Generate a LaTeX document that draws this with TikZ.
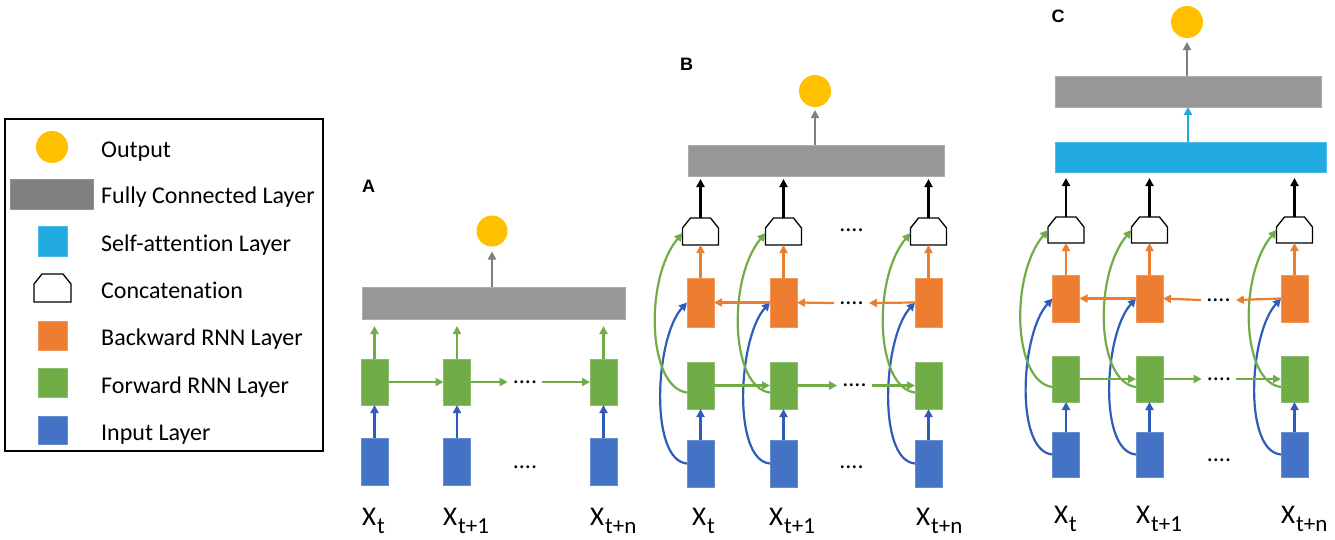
\documentclass[tikz,border=0pt]{standalone}
\usepackage{fontspec}
\setmainfont{Carlito}[Ligatures=CommonOff]
\newfontfamily\arialfont{Liberation Sans}
\usetikzlibrary{arrows.meta}
\definecolor{cYel}{HTML}{FFC000}
\definecolor{cGray}{HTML}{979797}
\definecolor{cGrayLeg}{HTML}{808080}
\definecolor{cSA}{RGB}{33,170,225}
\definecolor{cOrange}{HTML}{ED7D31}
\definecolor{cGreen}{HTML}{70AD47}
\definecolor{cBlue}{HTML}{4472C4}
\definecolor{cBlueArr}{RGB}{47,92,184}
\definecolor{cGrayArr}{HTML}{7F7F7F}
\newcommand\mkXlabel[1]{\fontsize{27}{27}\selectfont X\kern1pt\raisebox{-8pt}{\fontsize{23}{23}\selectfont #1}}
\begin{document}
\begin{tikzpicture}[x=1pt,y=-1pt,
  box/.style={rectangle, inner sep=0pt, outer sep=0pt, minimum width=27pt, minimum height=47pt, line width=0.8pt},
  inbox/.style={box, fill=cBlue, draw=cBlue!80!white},
  fwbox/.style={box, fill=cGreen, draw=cGreen!80!white},
  bwbox/.style={box, fill=cOrange, draw=cOrange!80!white},
  sabox/.style={box, fill=cSA, draw=cSA!80!white},
  fcbar/.style={rectangle, inner sep=0pt, outer sep=0pt, fill=cGray, draw=cGray!80!white, line width=0.8pt},
  outcircle/.style={circle, fill=cYel, inner sep=0pt, outer sep=0pt, minimum size=32pt},
  cat/.style={rectangle, inner sep=0pt, outer sep=0pt, minimum width=36pt, minimum height=27pt},
  catline/.style={draw=black, fill=white, line width=1.3pt, line join=miter},
  arr/.style={line width=2.2pt, -{Triangle[length=8pt,width=8pt]}},
  garr/.style={arr, draw=cGreen},
  barr/.style={arr, draw=cBlueArr},
  oarr/.style={arr, draw=cOrange},
  karr/.style={arr, draw=black, line width=2.6pt},
  grarr/.style={arr, draw=cGrayArr},
  larr/.style={arr, draw=cSA},
  dots/.style={inner ysep=0pt, inner xsep=5pt, font=\fontsize{24}{24}\selectfont},
  legtext/.style={anchor=base west, inner sep=0pt, font=\fontsize{24}{28}\selectfont},
  xlab/.style={anchor=base west, inner sep=0pt},
  plabel/.style={anchor=base west, inner sep=0pt, font=\arialfont\bfseries\fontsize{18}{18}\selectfont}
]
\useasboundingbox (0,0) rectangle (1335,539);

% ---------------- Legend ----------------
\node[draw=black, line width=1.2pt, rectangle, inner sep=0pt, minimum width=318pt, minimum height=332pt] (legbox) at (164,285) {};
\node[outcircle] (lout) at (52,147) {};
\node[legtext] (tout) at (101,157) {Output};
\node[fcbar, fill=cGrayLeg, draw=cGrayLeg!85!white, minimum width=83pt, minimum height=30pt] (lfc) at (51.5,194) {};
\node[legtext] (tfc) at (101,203) {Fully Connected Layer};
\node[sabox, minimum width=29pt, minimum height=30pt] (lsa) at (52.5,241) {};
\node[legtext] (tsa) at (101,251) {Self-attention Layer};
\node[cat, minimum width=37pt, minimum height=28pt] (lcat) at (52.5,288) {};
\draw[catline] (lcat.south west) -- ([yshift=-10pt]lcat.north west) -- ([xshift=8pt]lcat.north west)
   -- ([xshift=-8pt]lcat.north east) -- ([yshift=-10pt]lcat.north east) -- (lcat.south east) -- cycle;
\node[legtext] (tcat) at (101,298) {Concatenation};
\node[bwbox, minimum width=29pt, minimum height=29pt] (lbw) at (52.5,335.5) {};
\node[legtext] (tbw) at (101,345) {Backward RNN Layer};
\node[fwbox, minimum width=29pt, minimum height=29pt] (lfw) at (52.5,382.5) {};
\node[legtext] (tfw) at (101,393) {Forward RNN Layer};
\node[inbox, minimum width=29pt, minimum height=28pt] (lin) at (52.5,430) {};
\node[legtext] (tin) at (101,440) {Input Layer};

% ---------------- Panel A ----------------
\node[plabel] (labA) at (362,192) {A};
\node[outcircle, minimum size=31pt] (aout) at (492,231) {};
\node[fcbar, minimum width=263pt, minimum height=32pt] (afc) at (493.5,303) {};
\foreach \i/\x in {1/374.5, 2/457, 3/603.5} {
  \node[inbox] (ai\i) at (\x,461.5) {};
  \node[fwbox, minimum height=46pt] (af\i) at (\x,382) {};
}
\node[dots] (afd) at (525,382) {....};
\node[dots] (aid) at (525,467) {....};
\foreach \i in {1,2,3} {
  \draw[barr] (ai\i.north) -- (af\i.south);
  \draw[garr, shorten >=7pt] (af\i.north) -- (af\i.north |- afc.south);
}
\draw[garr] (af1.east) -- (af2.west);
\draw[garr] (af2.east) -- (afd.west);
\draw[garr] (afd.east) -- (af3.west);
\draw[grarr, shorten >=5pt] (aout |- afc.north) -- (aout.south);
\node[xlab] (ax1) at (362,525) {\mkXlabel{t}};
\node[xlab] (ax2) at (443,525) {\mkXlabel{t+1}};
\node[xlab] (ax3) at (590,525) {\mkXlabel{t+n}};

% ---------------- Panel B ----------------
\node[plabel] (labB) at (680,70) {B};
\node[outcircle] (bout) at (815,91) {};
\node[fcbar, minimum width=256pt, minimum height=31pt] (bfc) at (816,160.5) {};
\foreach \i/\x in {1/700.5, 2/783.5, 3/928.5} {
  \node[inbox] (bi\i) at (\x,463.5) {};
  \node[fwbox] (bf\i) at (\x,385.5) {};
  \node[bwbox, minimum height=49pt] (bo\i) at (\x,302.5) {};
  \node[cat] (bc\i) at (\x,231.5) {};
}
\node[dots] (bod) at (851.5,303) {....};
\node[dots] (bfd) at (854.5,385.5) {....};
\node[dots] (bcd) at (851.5,230) {....};
\node[dots] (bid) at (851.5,467) {....};
\foreach \i in {1,2,3} {
  \draw[catline] (bc\i.south west) -- ([yshift=-10pt]bc\i.north west) -- ([xshift=8pt]bc\i.north west)
     -- ([xshift=-8pt]bc\i.north east) -- ([yshift=-10pt]bc\i.north east) -- (bc\i.south east) -- cycle;
  \draw[barr] (bi\i.north) -- (bf\i.south);
  \draw[oarr] (bo\i.north) -- (bc\i.south);
  \draw[karr, shorten >=3pt] (bc\i.north) -- (bc\i.north |- bfc.south);
  \draw[barr] (bi\i.west) .. controls +(-38,-3) and +(-32,35) .. (bo\i.west);
  \draw[garr] ([yshift=-7pt]bf\i.west) .. controls +(-40,-5) and +(-38,45) .. ([yshift=-1.5pt]bc\i.west);
}
\draw[garr] (bf1.east) -- (bf2.west);
\draw[garr] (bf2.east) -- (bfd.west);
\draw[garr] (bfd.east) -- (bf3.west);
\draw[oarr] (bo3.west) -- (bod.east);
\draw[oarr] (bod.west) -- (bo2.east);
\draw[oarr] (bo2.west) -- (bo1.east);
\draw[grarr, shorten >=3pt] (bout |- bfc.north) -- (bout.south);
\node[xlab] (bx1) at (692,525) {\mkXlabel{t}};
\node[xlab] (bx2) at (769,525) {\mkXlabel{t+1}};
\node[xlab] (bx3) at (916,525) {\mkXlabel{t+n}};

% ---------------- Panel C ----------------
\node[plabel] (labC) at (1051.5,22) {C};
\node[outcircle] (cout) at (1187,22) {};
\node[fcbar, minimum width=266pt, minimum height=31pt] (cfc) at (1188,91.5) {};
\node[sabox, minimum width=271pt, minimum height=30pt] (csa) at (1190.5,157) {};
\foreach \i/\x in {1/1066, 2/1149.5, 3/1294.5} {
  \node[inbox, minimum height=45pt] (ci\i) at (\x,454.5) {};
  \node[fwbox, minimum height=46pt] (cf\i) at (\x,379) {};
  \node[bwbox] (co\i) at (\x,298.5) {};
  \node[cat, minimum height=26pt] (cc\i) at (\x,230) {};
}
\node[dots] (cod) at (1218.5,300) {....};
\node[dots] (cfd) at (1219,379) {....};
\node[dots] (cid) at (1219,460) {....};
\foreach \i in {1,2,3} {
  \draw[catline] (cc\i.south west) -- ([yshift=-10pt]cc\i.north west) -- ([xshift=8pt]cc\i.north west)
     -- ([xshift=-8pt]cc\i.north east) -- ([yshift=-10pt]cc\i.north east) -- (cc\i.south east) -- cycle;
  \draw[barr] (ci\i.north) -- (cf\i.south);
  \draw[oarr] (co\i.north) -- (cc\i.south);
  \draw[karr, shorten >=6pt] (cc\i.north) -- (cc\i.north |- csa.south);
  \draw[barr] (ci\i.west) .. controls +(-38,-3) and +(-32,35) .. (co\i.west);
  \draw[garr] ([yshift=-8pt]cf\i.west) .. controls +(-40,-5) and +(-38,45) .. (cc\i.west);
}
\draw[garr] (cf1.east) -- (cf2.west);
\draw[garr] (cf2.east) -- (cfd.west);
\draw[garr] (cfd.east) -- (cf3.west);
\draw[oarr] (co3.west) -- (cod.east);
\draw[oarr] (cod.west) -- (co2.east);
\draw[oarr] (co2.west) -- (co1.east);
\draw[larr] (csa.north -| cfc.south) -- (cfc.south);
\draw[grarr, shorten >=4pt] (cout |- cfc.north) -- (cout.south);
\node[xlab] (cx1) at (1054,523) {\mkXlabel{t}};
\node[xlab] (cx2) at (1136,523) {\mkXlabel{t+1}};
\node[xlab] (cx3) at (1281,523) {\mkXlabel{t+n}};
\end{tikzpicture}
\end{document}
